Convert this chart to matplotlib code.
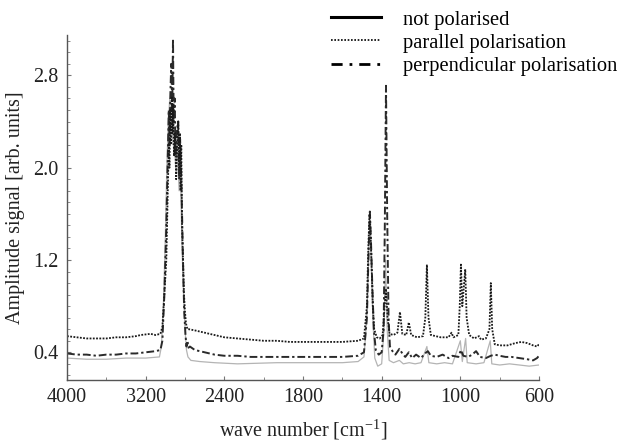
import numpy as np
import matplotlib
matplotlib.use("Agg")
import matplotlib.pyplot as plt
from matplotlib.lines import Line2D

plt.rcParams["font.family"] = ["Liberation Serif", "DejaVu Serif"]

# ---------------------------------------------------------------------------
# Data (wave number in cm^-1, amplitude in arb. units)
# ---------------------------------------------------------------------------

# parallel polarisation (dotted, upper baseline)
par_wn = [4000, 3900, 3800, 3700, 3600, 3500, 3400, 3300, 3250, 3150, 3100, 3050,
          3030, 3010, 2990, 2975, 2965, 2958, 2950, 2942, 2935, 2928, 2920, 2912,
          2900, 2890, 2878, 2868, 2860, 2852, 2845, 2838, 2830, 2820, 2810, 2800,
          2790, 2775, 2760, 2700, 2600, 2500, 2400, 2300, 2200, 2100, 2000, 1900,
          1800, 1700, 1600, 1520, 1490, 1475, 1468, 1462, 1458, 1452, 1445, 1438,
          1425, 1410, 1395, 1385, 1378, 1370, 1360, 1340, 1320, 1307, 1295, 1275,
          1262, 1250, 1220, 1190, 1178, 1170, 1162, 1150, 1100, 1060, 1045, 1035,
          1010, 1003, 997, 990, 975, 968, 955, 930, 905, 895, 870, 852,
          845, 838, 825, 800, 760, 720, 690, 660, 630, 610, 600]
par_amp = [0.54, 0.53, 0.52, 0.52, 0.52, 0.53, 0.53, 0.54, 0.55, 0.56, 0.55, 0.56,
           0.62, 0.90, 1.20, 1.80, 2.20, 2.00, 2.50, 2.20, 2.62, 2.30, 2.55, 2.10,
           2.30, 1.90, 2.20, 2.40, 2.00, 2.30, 1.80, 2.20, 1.50, 1.20, 0.90, 0.75,
           0.65, 0.60, 0.60, 0.59, 0.57, 0.55, 0.53, 0.52, 0.51, 0.50, 0.50, 0.49,
           0.49, 0.49, 0.49, 0.50, 0.52, 0.80, 1.30, 1.60, 1.50, 1.20, 0.80, 0.60,
           0.53, 0.52, 0.55, 0.80, 0.95, 0.70, 0.56, 0.55, 0.57, 0.75, 0.56, 0.55,
           0.66, 0.55, 0.53, 0.54, 0.70, 1.16, 0.70, 0.55, 0.53, 0.53, 0.57, 0.53,
           0.55, 0.80, 1.16, 0.80, 1.12, 0.70, 0.55, 0.52, 0.54, 0.51, 0.52, 0.60,
           1.00, 0.60, 0.47, 0.46, 0.46, 0.48, 0.49, 0.48, 0.46, 0.45, 0.47]

# perpendicular polarisation (dash-dot, middle baseline)
perp_wn = [4000, 3900, 3800, 3700, 3600, 3500, 3400, 3300, 3200, 3100, 3050, 3030,
           3010, 2990, 2975, 2965, 2958, 2950, 2940, 2930, 2922, 2915, 2905, 2895,
           2885, 2870, 2860, 2850, 2840, 2830, 2818, 2808, 2795, 2785, 2775, 2765,
           2750, 2700, 2600, 2500, 2400, 2300, 2200, 2000, 1800, 1600, 1520, 1490,
           1475, 1466, 1460, 1455, 1448, 1440, 1430, 1415, 1400, 1390, 1384, 1378,
           1372, 1365, 1358, 1345, 1330, 1310, 1295, 1280, 1262, 1245, 1225, 1200,
           1180, 1165, 1150, 1120, 1090, 1060, 1040, 1010, 997, 985, 960, 940,
           920, 900, 870, 845, 825, 800, 770, 740, 700, 660, 630, 610, 600]
perp_amp = [0.39, 0.38, 0.38, 0.37, 0.38, 0.38, 0.39, 0.39, 0.40, 0.41, 0.42, 0.50,
            0.90, 1.50, 2.10, 2.50, 2.20, 2.60, 2.90, 2.50, 3.12, 2.40, 2.60, 2.10,
            2.30, 2.40, 1.90, 2.25, 2.00, 1.60, 1.10, 0.75, 0.55, 0.45, 0.50, 0.44,
            0.45, 0.42, 0.40, 0.38, 0.37, 0.37, 0.36, 0.36, 0.36, 0.36, 0.37, 0.40,
            0.70, 1.30, 1.62, 1.40, 1.00, 0.60, 0.42, 0.38, 0.40, 0.60, 1.50, 2.71,
            1.60, 0.70, 0.45, 0.41, 0.38, 0.43, 0.39, 0.36, 0.40, 0.35, 0.38, 0.35,
            0.39, 0.41, 0.37, 0.36, 0.38, 0.35, 0.37, 0.36, 0.42, 0.37, 0.36, 0.38,
            0.41, 0.36, 0.35, 0.37, 0.38, 0.37, 0.36, 0.36, 0.35, 0.34, 0.33, 0.35, 0.37]

# not polarised (solid, lowest baseline, printed light)
nop_wn = [4000, 3800, 3600, 3400, 3200, 3060, 3040, 3020, 3000, 2985, 2970, 2955,
          2945, 2935, 2925, 2910, 2895, 2880, 2860, 2845, 2830, 2815, 2800, 2785,
          2770, 2740, 2650, 2500, 2300, 2000, 1800, 1600, 1520, 1490, 1475, 1465,
          1460, 1453, 1445, 1435, 1420, 1400, 1388, 1380, 1372, 1362, 1340, 1310,
          1290, 1260, 1230, 1200, 1170, 1160, 1120, 1080, 1040, 1000, 990, 973,
          965, 920, 880, 848, 840, 800, 750, 700, 650, 600]
nop_amp = [0.35, 0.34, 0.34, 0.35, 0.35, 0.36, 0.45, 0.80, 1.40, 2.00, 2.40, 2.60,
           2.30, 2.50, 2.20, 2.35, 2.00, 2.20, 1.80, 1.90, 1.30, 0.90, 0.60, 0.42,
           0.36, 0.33, 0.32, 0.31, 0.30, 0.31, 0.31, 0.31, 0.32, 0.36, 0.70, 1.30,
           1.55, 1.20, 0.70, 0.35, 0.28, 0.30, 0.60, 1.20, 0.60, 0.33, 0.31, 0.33,
           0.30, 0.31, 0.30, 0.31, 0.45, 0.31, 0.30, 0.31, 0.30, 0.50, 0.32, 0.52,
           0.31, 0.30, 0.31, 0.50, 0.30, 0.29, 0.30, 0.29, 0.28, 0.29]

# axis ticks: the wave-number axis is piecewise (equal spacing between labels)
x_major = [4000, 3200, 2400, 1800, 1400, 1000, 600]
x_minor = [3600, 2800, 2100, 1600, 1200, 800]
y_major = [0.4, 1.2, 2.0, 2.8]

# ---------------------------------------------------------------------------
# Piecewise-linear wave-number scale
# ---------------------------------------------------------------------------
_wn_asc = np.array(x_major[::-1], dtype=float)
_pos_asc = np.arange(len(x_major), dtype=float)


def wn_forward(x):
    return np.interp(np.asarray(x, dtype=float), _wn_asc, _pos_asc,
                     left=-1e-3, right=len(x_major))


def wn_inverse(p):
    return np.interp(np.asarray(p, dtype=float), _pos_asc, _wn_asc)


fig = plt.figure(figsize=(6.23, 4.44), dpi=100)
ax = fig.add_axes([67 / 623, 1 - 380 / 444, 472 / 623, 345 / 444])
ax.set_xscale("function", functions=(wn_forward, wn_inverse))

ax.plot(nop_wn, nop_amp, color="#b4b4b4", lw=0.9, ls="-")
ax.plot(perp_wn, perp_amp, color="#2a2a2a", lw=1.4, ls=(0, (4, 1.5, 1.2, 1.5)))
ax.plot(par_wn, par_amp, color="#1a1a1a", lw=1.3, ls=(0, (1, 0.8)))

ax.set_xlim(4000, 600)
ax.set_ylim(0.16, 3.15)

ax.set_xticks(x_major)
ax.set_xticklabels([str(v) for v in x_major])
ax.set_xticks(x_minor, minor=True)
ax.set_yticks(y_major)
ax.set_yticklabels([f"{v:.1f}" for v in y_major])
ax.set_yticks(np.arange(0.2, 3.11, 0.1), minor=True)

for s in ["top", "right"]:
    ax.spines[s].set_visible(False)
for s in ["left", "bottom"]:
    ax.spines[s].set_color("#555555")
    ax.spines[s].set_linewidth(1.0)

ax.tick_params(which="both", direction="in", color="#777777", labelsize=14.5,
               labelcolor="#222222")
ax.tick_params(which="major", length=3, width=0.8, pad=6)
ax.tick_params(which="minor", length=2, width=0.6)

ax.set_xlabel("wave number [cm$^{\\mathregular{-1}}$]", fontsize=14.5,
              color="#222222", labelpad=7)
ax.set_ylabel("Amplitude signal [arb. units]", fontsize=14.5, color="#222222",
              labelpad=6)

handles = [
    Line2D([], [], color="black", lw=2.2, ls="-"),
    Line2D([], [], color="black", lw=1.2, ls=(0, (1, 1))),
    Line2D([], [], color="black", lw=2.0, ls=(0, (4, 2.5, 1, 2.5))),
]
labels = ["not polarised", "parallel polarisation", "perpendicular polarisation"]
fig.legend(handles, labels, loc="upper left", bbox_to_anchor=(0.517, 0.998),
           frameon=False, fontsize=14.8, handlelength=2.4, handletextpad=1.1,
           labelspacing=0.18, borderaxespad=0.3, borderpad=0.15)

fig.savefig("out.png", dpi=100)
